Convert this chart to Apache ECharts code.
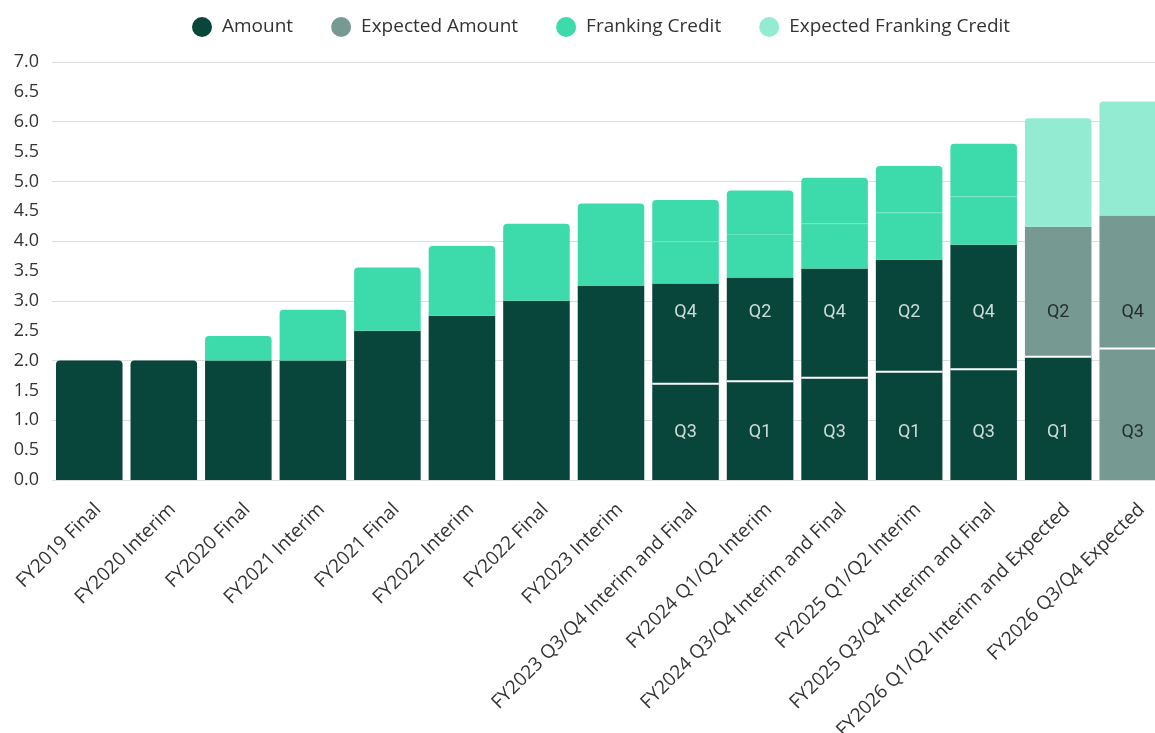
<!DOCTYPE html>
<html>
<head>
    <meta charset="utf-8">
    <title>Dividends</title>
    <script src="https://cdn.jsdelivr.net/npm/echarts@6/dist/echarts.min.js"></script>
</head>
<body style="background-color: #fff; margin: 0px;">
    <div id="main" style="width: 1155px; height: 733px;"></div>
    <script type="text/javascript">
        // categories and values
        var categories = [
            'FY2019 Final', 'FY2020 Interim', 'FY2020 Final', 'FY2021 Interim', 'FY2021 Final',
            'FY2022 Interim', 'FY2022 Final', 'FY2023 Interim', 'FY2023 Q3/Q4 Interim and Final',
            'FY2024 Q1/Q2 Interim', 'FY2024 Q3/Q4 Interim and Final', 'FY2025 Q1/Q2 Interim',
            'FY2025 Q3/Q4 Interim and Final', 'FY2026 Q1/Q2 Interim and Expected', 'FY2026 Q3/Q4 Expected'
        ];
        var amountLower      = [2.0, 2.0, 2.0, 2.0, 2.5, 2.75, 3.0, 3.25, 1.63, 1.67, 1.73, 1.83, 1.87, 2.08, 0];
        var amountUpper      = [0, 0, 0, 0, 0, 0, 0, 0, 1.66, 1.72, 1.81, 1.86, 2.07, 0, 0];
        var expectedLower    = [0, 0, 0, 0, 0, 0, 0, 0, 0, 0, 0, 0, 0, 2.16, 2.22];
        var expectedUpper    = [0, 0, 0, 0, 0, 0, 0, 0, 0, 0, 0, 0, 0, 0, 2.21];
        var frankingLower    = [0, 0, 0.41, 0.85, 1.06, 1.17, 1.29, 1.38, 0.71, 0.73, 0.76, 0.79, 0.81, 0, 0];
        var frankingUpper    = [0, 0, 0, 0, 0, 0, 0, 0, 0.69, 0.73, 0.76, 0.78, 0.88, 0, 0];
        var expectedFranking = [0, 0, 0, 0, 0, 0, 0, 0, 0, 0, 0, 0, 0, 1.82, 1.91];

        // quarter tags, drawn at two fixed heights like the original
        var lowerQuarterLabels = ['', '', '', '', '', '', '', '', 'Q3', 'Q1', 'Q3', 'Q1', 'Q3', 'Q1', 'Q3'];
        var upperQuarterLabels = ['', '', '', '', '', '', '', '', 'Q4', 'Q2', 'Q4', 'Q2', 'Q4', 'Q2', 'Q4'];
        var lowerLabelLevel = 0.8;
        var upperLabelLevel = 2.8;

        var layers = [
            { name: 'Amount', kind: 'amount', values: amountLower, color: '#08453b' },
            { name: 'Amount', kind: 'amount', values: amountUpper, color: '#08453b' },
            { name: 'Expected Amount', kind: 'amount', values: expectedLower, color: '#769a92' },
            { name: 'Expected Amount', kind: 'amount', values: expectedUpper, color: '#769a92' },
            { name: 'Franking Credit', kind: 'franking', values: frankingLower, color: '#3ddbab' },
            { name: 'Franking Credit', kind: 'franking', values: frankingUpper, color: '#3ddbab' },
            { name: 'Expected Franking Credit', kind: 'franking', values: expectedFranking, color: '#93ebd1' }
        ];

        // topmost non-empty layer of each bar gets the rounded corners
        var topLayer = categories.map(function (c, i) {
            var top = 0;
            layers.forEach(function (l, li) { if (l.values[i] > 0) top = li; });
            return top;
        });

        var series = layers.map(function (l, li) {
            var data = l.values.map(function (v, i) {
                var below = 0;
                for (var k = 0; k < li; k++) {
                    if (layers[k].kind === l.kind) below += layers[k].values[i];
                }
                var style = {};
                if (topLayer[i] === li) style.borderRadius = [4, 4, 0, 0];
                if (v > 0 && below > 0) {
                    // thin divider drawn as an offset shadow under the segment
                    style.shadowColor = l.kind === 'amount' ? '#ffffff' : 'rgba(255,255,255,0.22)';
                    style.shadowOffsetY = l.kind === 'amount' ? 2 : 1;
                    style.shadowBlur = 0;
                }
                return { value: v, itemStyle: style };
            });
            return {
                name: l.name,
                type: 'bar',
                stack: 'total',
                barCategoryGap: '10.7%',
                itemStyle: { color: l.color },
                emphasis: { disabled: true },
                data: data
            };
        });

        function quarterLabels(labels, level) {
            var data = [];
            labels.forEach(function (t, i) {
                if (!t) return;
                var actual = amountLower[i] + amountUpper[i];
                data.push({
                    value: [categories[i], level],
                    label: { formatter: t, color: actual > level ? '#ffffff' : '#111111' }
                });
            });
            return {
                type: 'scatter',
                symbolSize: 0,
                silent: true,
                z: 5,
                label: { show: true, position: 'inside', fontFamily: 'Roboto', fontSize: 18 },
                data: data
            };
        }
        series.push(quarterLabels(lowerQuarterLabels, lowerLabelLevel));
        series.push(quarterLabels(upperQuarterLabels, upperLabelLevel));

        var myChart = echarts.init(document.getElementById('main'));
        var option = {
            animation: false,
            legend: {
                data: ['Amount', 'Expected Amount', 'Franking Credit', 'Expected Franking Credit'],
                left: 187,
                top: 12,
                icon: 'circle',
                itemWidth: 20,
                itemHeight: 20,
                itemGap: 38,
                textStyle: { fontFamily: 'Open Sans', fontSize: 19, color: '#333', padding: [0, 0, 0, 5] }
            },
            grid: { left: 52, right: -15, top: 62, bottom: 253, containLabel: false, outerBoundsMode: 'none' },
            xAxis: {
                type: 'category',
                data: categories,
                axisLine: { show: false },
                axisTick: { show: false },
                axisLabel: {
                    interval: 0,
                    rotate: 45,
                    margin: 22,
                    verticalAlign: 'top',
                    padding: [0, -3, 0, 0],
                    fontFamily: 'Open Sans',
                    fontSize: 19,
                    color: '#333'
                }
            },
            yAxis: [
                {
                    type: 'value',
                    min: 0,
                    max: 7,
                    interval: 0.5,
                    axisLine: { show: false },
                    axisTick: { show: false },
                    splitLine: { show: false },
                    axisLabel: {
                        margin: 13,
                        fontFamily: 'Open Sans',
                        fontSize: 18,
                        color: '#333',
                        formatter: function (v) { return v.toFixed(1); }
                    }
                },
                {
                    type: 'value',
                    position: 'left',
                    min: 0,
                    max: 7,
                    interval: 1,
                    axisLine: { show: false },
                    axisTick: { show: false },
                    axisLabel: { show: false },
                    splitLine: { show: true, lineStyle: { color: '#dddddd', width: 1 } }
                }
            ],
            series: series
        };
        myChart.setOption(option);
    </script>
</body>
</html>
